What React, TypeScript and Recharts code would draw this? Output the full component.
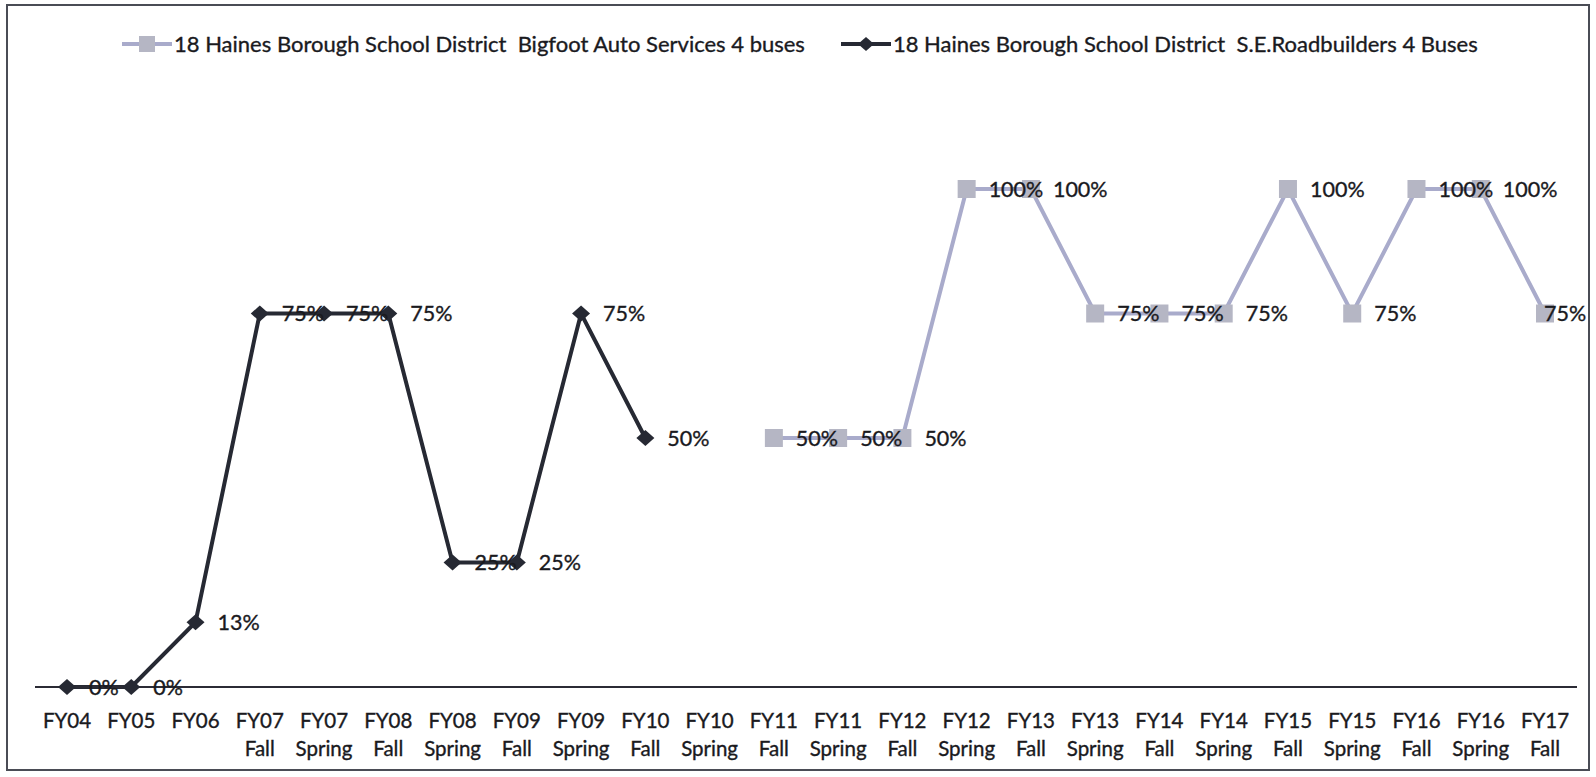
import { LabelList, Line, LineChart, XAxis, YAxis } from 'recharts'

const categories = [
  'FY04', 'FY05', 'FY06', 'FY07 Fall', 'FY07 Spring', 'FY08 Fall', 'FY08 Spring',
  'FY09 Fall', 'FY09 Spring', 'FY10 Fall', 'FY10 Spring', 'FY11 Fall', 'FY11 Spring',
  'FY12 Fall', 'FY12 Spring', 'FY13 Fall', 'FY13 Spring', 'FY14 Fall', 'FY14 Spring',
  'FY15 Fall', 'FY15 Spring', 'FY16 Fall', 'FY16 Spring', 'FY17 Fall',
]

// S.E.Roadbuilders, % of buses (dark line)
const roadbuilders: (number | null)[] = [
  0, 0, 13, 75, 75, 75, 25, 25, 75, 50,
  null, null, null, null, null, null, null, null, null, null, null, null, null, null,
]

// Bigfoot Auto Services, % of buses (grey line)
const bigfoot: (number | null)[] = [
  null, null, null, null, null, null, null, null, null, null, null,
  50, 50, 50, 100, 100, 75, 75, 75, 100, 75, 100, 100, 75,
]

const bigfootName = '18 Haines Borough School District  Bigfoot Auto Services 4 buses'
const roadName = '18 Haines Borough School District  S.E.Roadbuilders 4 Buses'

const FONT = 'Lato, "Open Sans", sans-serif'
const INK = '#1a1a1e'
const DARK = '#262933'
const GREY_LINE = '#a9abcb'
const GREY_MARK = '#b5b6c4'
const W = 1580
const H = 763

const rows = categories.map((c, i) => ({
  cat: c,
  road: roadbuilders[i],
  bigfoot: bigfoot[i],
}))

// scanned original reads a little heavier than a plain regular weight
const heavy = { stroke: INK, strokeWidth: 0.35 }

function CatTick(props: any) {
  const { x, y, payload } = props
  const [a, b] = String(payload.value).split(' ')
  return (
    <g>
      <text x={x} y={y + 39} textAnchor="middle" fontFamily={FONT} fontSize={20.5} fill={INK} {...heavy}>
        {a}
      </text>
      {b && (
        <text x={x} y={y + 67} textAnchor="middle" fontFamily={FONT} fontSize={20.5} fill={INK} {...heavy}>
          {b}
        </text>
      )}
    </g>
  )
}

function Diamond(props: any) {
  const { cx, cy, payload } = props
  if (cx == null || cy == null || payload.road == null) return <g />
  return (
    <path
      d={`M${cx},${cy - 8} L${cx + 9},${cy} L${cx},${cy + 8} L${cx - 9},${cy} Z`}
      fill={DARK}
    />
  )
}

function Square(props: any) {
  const { cx, cy, payload } = props
  if (cx == null || cy == null || payload.bigfoot == null) return <g />
  return <rect x={cx - 9} y={cy - 9} width={18} height={18} fill={GREY_MARK} />
}

function PctLabel(props: any) {
  const { x, y, value } = props
  if (value == null) return null
  // keep the last label inside the frame, like the original does
  const tx = Math.min(x + 22, W - 44)
  return (
    <text x={tx} y={y + 7.5} fontFamily={FONT} fontSize={21.5} fill={INK} {...heavy}>
      {value}%
    </text>
  )
}

function LegendIcon({ kind }: { kind: 'square' | 'diamond' }) {
  return (
    <svg width={50} height={20} style={{ display: 'block' }}>
      <line x1={0} y1={10} x2={50} y2={10} stroke={kind === 'square' ? GREY_LINE : DARK} strokeWidth={4} />
      {kind === 'square' ? (
        <rect x={17} y={2} width={16} height={16} fill={GREY_MARK} />
      ) : (
        <path d="M25,3 L33,10 L25,17 L17,10 Z" fill={DARK} />
      )}
    </svg>
  )
}

export default function App() {
  return (
    <div
      style={{
        position: 'absolute',
        left: 6,
        top: 4,
        width: W,
        height: H,
        border: '2px solid #4a4c55',
        background: '#fff',
      }}
    >
      <div
        style={{
          position: 'absolute',
          left: 114,
          top: 24,
          display: 'flex',
          alignItems: 'center',
          fontFamily: FONT,
          fontSize: 22,
          color: INK,
          whiteSpace: 'pre',
          WebkitTextStroke: '0.35px ' + INK,
        }}
      >
        <LegendIcon kind="square" />
        <span style={{ marginLeft: 2 }}>{bigfootName}</span>
        <span style={{ width: 36 }} />
        <LegendIcon kind="diamond" />
        <span style={{ marginLeft: 2 }}>{roadName}</span>
      </div>
      <LineChart
        width={W}
        height={H}
        data={rows}
        margin={{ top: 183, right: 11, bottom: 22, left: 27 }}
      >
        <XAxis
          dataKey="cat"
          interval={0}
          tickLine={false}
          tickSize={0}
          height={60}
          padding={{ left: 32, right: 32 }}
          axisLine={{ stroke: '#2b2b35', strokeWidth: 2 }}
          tick={<CatTick />}
        />
        <YAxis hide domain={[0, 100]} />
        <Line
          dataKey="bigfoot"
          stroke={GREY_LINE}
          strokeWidth={4}
          dot={<Square />}
          activeDot={false}
          isAnimationActive={false}
        >
          <LabelList dataKey="bigfoot" content={<PctLabel />} />
        </Line>
        <Line
          dataKey="road"
          stroke={DARK}
          strokeWidth={4}
          dot={<Diamond />}
          activeDot={false}
          isAnimationActive={false}
        >
          <LabelList dataKey="road" content={<PctLabel />} />
        </Line>
      </LineChart>
    </div>
  )
}
